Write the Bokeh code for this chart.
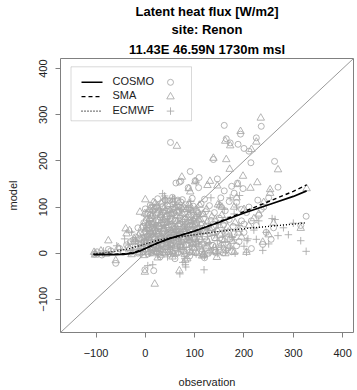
from bokeh.plotting import figure
from bokeh.models import Range1d, FixedTicker, Label, BoxAnnotation, Slope, Title
from bokeh.embed import file_html
from bokeh.resources import INLINE

# ---------------- data ----------------
title_lines = ["Latent heat flux [W/m2]", "site: Renon", "11.43E 46.59N 1730m msl"]
series_names = ["COSMO", "SMA", "ECMWF"]
ticks = [-100, 0, 100, 200, 300, 400]
axis_lim = [-172, 422]

cosmo_obs = [
    51, 160, 235, 193, 164, 172, 188, 200, 210, 225,
    138, 214, 262, 91, 69, 62, 72, 101, 109, 146,
    187, 269, 87, 108, 153, 210, 230, 326, 315, 238,
    140, 150, 163, -60, -75, 17, -1, 185, 195, 205,
    215, 225, 240, 250, 180, 198, 228, 245, 260, 255,
    190, 200, 215, 235, 175, 160, 170, -103, -98, -88,
    -70, -52, -45, -38, -30, -20, -15, 40, 72, 49,
    -30, -15, -5, 5, 12, 20, 28, 36, 45, 55,
    65, 78, 90, 102, 115, 128, 142, 158, 175, -35,
    -20, -8, 3, 10, 18, 25, 33, 42, 50, 60,
    70, 82, 95, 108, 122, 137, 150, 168, 185, -25,
    -12, -2, 8, 16, 24, 31, 40, 48, 57, 66,
    75, 86, 98, 110, 124, 140, 155, 172, -10, 0,
    9, 19, 27, 37, 46, 54, 63, 72, 81, 92,
    104, 117, 130, 145, 162, 180, -5, 6, 14, 22,
    32, 43, 52, 61, 70, 80, 90, 100, 112, 126,
    140, 158, 178, 200, 2, 12, 21, 30, 40, 50,
    60, 70, 80, 92, 105, 118, 133, 150, 170, 195,
    5, 15, 25, 35, 47, 58, 68, 80, 93, 107,
    122, 140, 162, 10, 22, 33, 45, 56, 68, 82,
    97, 113, 130, 25, 40, 55, 75, 95, 120, 30,
    60, 90, 120,
    -8, 4, 15, 26, 38, 50, 62, 74, 86, 98,
    -3, 10, 20, 32, 44, 56, 68, 80, 92, 104,
    0, 13, 28, 43, 58, 73, 88, 103,
    7, 19, 35, 52, 66, 84, 100, 116,
]
cosmo_mod = [
    240, 277, 275, 258, 248, 239, 236, 227, 221, 250,
    203, 196, 199, 177, 154, 152, 156, 157, 164, 161,
    152, 143, 142, 142, 120, 100, 82, 80, 60, 19,
    6, 6, 6, -22, 8, -38, -36, 110, 95, 88,
    70, 60, 100, 120, 130, 140, 115, 45, 55, 30,
    25, 45, 10, 95, 145, 135, 112, -2, 3, -4,
    5, 10, 2, 18, 25, 35, 55, 115, 111, 114,
    2, 0, 3, -2, 1, 4, 0, 2, 3, 1,
    0, 4, 2, 1, 3, 0, 2, 1, 3, 12,
    15, 10, 18, 13, 20, 11, 17, 14, 19, 12,
    16, 18, 13, 15, 11, 17, 14, 12, 16, 28,
    32, 25, 30, 35, 27, 33, 29, 34, 26, 31,
    35, 28, 32, 30, 27, 33, 29, 31, 42, 47,
    44, 50, 41, 48, 45, 43, 49, 46, 42, 50,
    44, 47, 43, 48, 45, 42, 58, 62, 55, 60,
    64, 57, 61, 55, 63, 58, 60, 56, 62, 59,
    57, 61, 58, 63, 72, 76, 70, 78, 73, 75,
    71, 77, 74, 72, 78, 75, 71, 76, 73, 70,
    88, 92, 86, 90, 94, 87, 91, 89, 93, 86,
    90, 88, 92, 104, 100, 108, 103, 106, 101, 105,
    102, 107, 103, 118, 115, 121, 116, 119, 117, -8,
    -12, -6, -10,
    22, 37, 7, 45, 52, 9, 38, 24, 55, 20,
    66, 83, 96, 18, 80, 96, 88, 48, 79, 66,
    96, 64, 58, 91, 41, 97, 36, 90,
    54, 32, 101, 70, 115, 62, 30, 85,
]

sma_obs = [
    64, 234, 193, 162, 172, 215, 225, 138, 164, 171,
    269, 198, 74, 101, 131, 187, 213, 227, 253, 253,
    327, 88, 91, 126, 146, 147, 200, 220, 315, 238,
    205, 118, 81, 69, -1, 19, -75, -60, -40, -32,
    -104, -102, 0, -11, 14, 155, 151, -38, 185, 240,
    210, 230, 195, 260, 180, 250, -90, -80, -55, -22,
    -28, -12, -3, 7, 14, 23, 31, 39, 48, 58,
    68, 80, 93, 105, 118, 132, 146, 162, 180, -32,
    -18, -6, 5, 12, 20, 28, 36, 45, 53, 63,
    73, 85, 98, 111, 125, 140, 154, 171, -22, -8,
    1, 10, 18, 27, 35, 43, 52, 61, 70, 79,
    89, 101, 113, 127, 143, 160, 176, -14, -3, 6,
    16, 25, 34, 43, 51, 60, 68, 77, 88, 99,
    110, 124, 138, 152, 168, 188, -7, 3, 11, 20,
    29, 38, 47, 57, 66, 76, 86, 96, 108, 121,
    135, 150, 167, 190, 0, 9, 18, 27, 36, 45,
    55, 65, 75, 86, 98, 111, 126, 142, 160, 182,
    3, 13, 23, 32, 42, 53, 64, 75, 88, 102,
    118, 135, 155, 8, 18, 28, 38, 50, 62, 76,
    91, 106, 124, 20, 35, 50, 68, 88, 110, 25,
    55, 85, 115, 145,
    -6, 6, 17, 29, 41, 52, 64, 76, 89, 101,
    -1, 12, 24, 37, 48, 60, 72, 84, 96, 108,
    4, 16, 31, 46, 61, 77, 93, 106,
    9, 22, 40, 56, 71, 90, 104, 120,
]
sma_mod = [
    232, 293, 264, 243, 233, 225, 241, 206, 203, 182,
    181, 167, 165, 155, 156, 149, 141, 153, 138, 130,
    140, 140, 133, 147, 146, 105, 95, 75, 54, 24,
    2, -5, -15, -38, -41, -67, 27, -16, 53, 49,
    2, -4, 116, 89, 100, 100, 103, 42, 120, 110,
    60, 85, 35, 65, 100, 40, 5, -2, 12, 30,
    -3, 1, -5, 2, -1, 3, -4, 0, 2, -2,
    1, -3, 2, 0, -2, 3, 1, -1, 2, 10,
    13, 9, 16, 11, 18, 14, 19, 12, 17, 15,
    13, 18, 11, 16, 14, 12, 18, 15, 24, 29,
    23, 27, 32, 25, 30, 36, 28, 33, 24, 31,
    27, 34, 29, 25, 32, 28, 26, 38, 45, 41,
    47, 40, 46, 42, 49, 44, 39, 48, 43, 46,
    41, 47, 43, 39, 46, 44, 55, 52, 59, 54,
    58, 53, 60, 56, 62, 52, 57, 61, 55, 59,
    54, 60, 56, 52, 68, 73, 66, 71, 75, 67,
    74, 69, 72, 76, 70, 74, 68, 73, 70, 66,
    84, 80, 87, 82, 79, 85, 81, 86, 83, 80,
    84, 79, 82, 95, 98, 92, 97, 93, 99, 94,
    96, 92, 95, 108, 111, 106, 110, 107, 104, -10,
    -8, -12, -6, -9,
    20, 35, 63, 8, 77, 21, 92, 57, 35, 62,
    86, 44, 102, 65, 13, 100, 40, 95, 20, 72,
    60, 110, 85, 30, 50, 100, 68, 88,
    75, 47, 92, 115, 18, 104, 23, 48,
]

ecmwf_obs = [
    39, 55, 92, 133, 172, 191, 257, 263, 269, 315,
    326, 206, 208, 205, 238, 170, 119, 76, 82, 70,
    81, 15, 5, -58, -42, -28, 35, 41, 59, 103,
    -100, -85, 300, 280, 230, 245, 220, 190, 180, 200,
    225, -70, -50, -35, -20, 250, 290, 185, 160, 150,
    -25, -10, 0, 9, 18, 27, 36, 46, 56, 67,
    78, 90, 103, 117, 131, 146, 163, 182, -15, -4,
    6, 14, 22, 31, 40, 50, 60, 71, 83, 96,
    109, 123, 138, 154, 172, -8, 2, 11, 20, 29,
    38, 47, 57, 67, 78, 90, 102, 115, 130, 146,
    162, 180, -3, 7, 16, 25, 34, 44, 54, 64,
    75, 87, 99, 112, 126, 141, 157, 176, 3, 12,
    21, 30, 40, 50, 61, 72, 84, 97, 111, 126,
    142, 160, 10, 20, 31, 42, 54, 66, 80, 95,
    110, 128, 148, 20, 35, 50, 66, 84, 104, 30,
    50, 70, 92, 45, 80, 120, 60,
    -7, 5, 16, 27, 39, 51, 63, 75, 88, 100,
    -2, 9, 22, 34, 46, 58, 70, 82, 94, 106,
    2, 15, 30, 45, 60, 76, 92, 108,
]
ecmwf_mod = [
    124, 118, 112, 120, 120, 125, 75, 73, 38, 27,
    4, 27, 31, 2, 6, 37, -36, -20, -30, -45,
    -25, -25, -27, 16, 31, 46, 129, 118, 118, 154,
    0, 5, 65, 55, 70, 45, 50, 60, 85, 15,
    30, 3, 8, 20, 28, 20, 40, 100, 95, 105,
    5, -2, 3, 0, 4, -3, 2, 1, -1, 3,
    0, 2, -2, 4, 1, -1, 2, 0, 14, 10,
    16, 12, 18, 13, 17, 11, 15, 19, 12, 16,
    14, 18, 12, 16, 13, 24, 28, 22, 30, 25,
    29, 23, 27, 31, 24, 28, 26, 30, 23, 27,
    25, 29, 38, 34, 41, 36, 39, 33, 40, 37,
    42, 35, 39, 43, 36, 40, 37, 34, 50, 46,
    52, 48, 55, 49, 53, 47, 51, 56, 48, 52,
    47, 50, 63, 59, 66, 61, 64, 58, 62, 65,
    60, 57, 63, 78, 74, 80, 76, 73, 79, 95,
    90, 98, 93, -8, -12, -7, 105,
    8, 28, 42, 10, 60, 20, 44, 68, 30, 52,
    30, 70, 7, 58, 35, 85, 12, 57, 70, 45,
    55, 88, 20, 68, 31, 8, 88, 22,
]

# smoothed fits
fit_obs = [-105, -80, -60, -40, -25, -10, 0, 10, 25, 50, 75, 100, 150, 200, 250, 300, 327]
cosmo_fit = [-3, -3, -3, -2, 0, 5, 10, 15, 22, 32, 40, 48, 67, 87, 105, 123, 135]
sma_fit = [-3, -2, -2, -1, 1, 6, 10, 15, 22, 32, 40, 48, 68, 90, 112, 134, 148]
ecmwf_fit = [-2, 1, 4, 8, 12, 17, 20, 23, 28, 33, 36, 40, 47, 53, 58, 63, 66]

# ---------------- layout ----------------
W, H = 357, 390
FL, FR, FT, FB = 60, 353, 58, 334   # frame edges in page pixels
FONT = "Liberation Sans"
PT_COL = "#a8a8a8"
BOX_COL = "#808080"

p = figure(width=W, height=H, x_range=Range1d(*axis_lim), y_range=Range1d(*axis_lim),
           output_backend="svg", toolbar_location=None, title=None,
           min_border_left=FL, min_border_right=W - FR, min_border_top=FT, min_border_bottom=H - FB)
# title lines: the one added first sits closest to the plot
for i, txt in enumerate(reversed(title_lines)):
    p.add_layout(Title(text=txt, align="center", text_font=FONT,
                       text_font_size="13px", text_font_style="bold", text_color="black",
                       standoff=(4 if i == 0 else 0.5), offset=0), "above")
p.grid.visible = False
p.background_fill_color = "white"
p.border_fill_color = "white"
p.outline_line_color = BOX_COL
p.outline_line_width = 1

for ax in (p.xaxis[0], p.yaxis[0]):
    ax.ticker = FixedTicker(ticks=ticks)
    ax.axis_line_color = None
    ax.major_tick_line_color = BOX_COL
    ax.major_tick_out = 5
    ax.major_tick_in = 0
    ax.minor_tick_line_color = None
    ax.major_label_text_font = FONT
    ax.major_label_text_font_size = "11px"
    ax.major_label_text_color = "#222222"
    ax.axis_label_text_font = FONT
    ax.axis_label_text_font_size = "11px"
    ax.axis_label_text_font_style = "normal"
    ax.axis_label_text_color = "#222222"

p.xaxis.axis_label = "observation"
p.yaxis.axis_label = "model"
p.xaxis.major_label_standoff = 11
p.xaxis.axis_label_standoff = 16
p.yaxis.major_label_standoff = 8
p.yaxis.major_label_orientation = "vertical"
p.yaxis.axis_label_standoff = 18

# 1:1 line
p.add_layout(Slope(gradient=1, y_intercept=0, line_color="#999999", line_width=1, level="underlay"))

# scatter
p.scatter(cosmo_obs, cosmo_mod, marker="circle", size=6, fill_color=None,
          line_color=PT_COL, line_width=0.85)
p.scatter(sma_obs, sma_mod, marker="triangle", size=7.5, fill_color=None,
          line_color=PT_COL, line_width=0.85)
p.scatter(ecmwf_obs, ecmwf_mod, marker="cross", size=7.5,
          line_color=PT_COL, line_width=0.85)

# fits
p.line(fit_obs, cosmo_fit, line_color="black", line_width=1.7)
p.line(fit_obs, sma_fit, line_color="black", line_width=1.4, line_dash="4 3")
p.line(fit_obs, ecmwf_fit, line_color="black", line_width=1.4, line_dash="1 2")

# ---------------- legend ----------------
def dx(px):
    return axis_lim[0] + (px - FL) * (axis_lim[1] - axis_lim[0]) / (FR - FL)

def dy(py):
    return axis_lim[0] + (FB - py) * (axis_lim[1] - axis_lim[0]) / (FB - FT)

p.add_layout(BoxAnnotation(left=70.5 - FL, right=191 - FL, top=FB - 68.3, bottom=FB - 122.3,
                           left_units="screen", right_units="screen",
                           top_units="screen", bottom_units="screen",
                           fill_color=None, fill_alpha=0, line_color=BOX_COL, line_width=1,
                           level="overlay"))
leg_rows = [82, 96.5, 111]
leg_dash = [None, "4 3", "1 2"]
leg_w = [1.5, 1.3, 1.3]
leg_marker = ["circle", "triangle", "cross"]
leg_size = [6, 7.5, 7.5]
for name, py, dash, lw, mk, sz in zip(series_names, leg_rows, leg_dash, leg_w, leg_marker, leg_size):
    kw = {} if dash is None else {"line_dash": dash}
    p.line([dx(81), dx(102)], [dy(py), dy(py)], line_color="black", line_width=lw, **kw)
    p.scatter([dx(170)], [dy(py)], marker=mk, size=sz, fill_color=None,
              line_color=PT_COL, line_width=0.85)
    p.add_layout(Label(x=112 - FL, y=FB - py, x_units="screen", y_units="screen",
                       text=name, text_align="left", text_baseline="middle",
                       text_font=FONT, text_font_size="11px", text_color="#222222"))

open("out.html", "w").write(file_html(p, INLINE))
